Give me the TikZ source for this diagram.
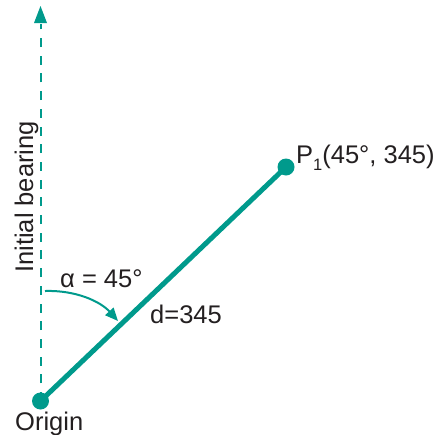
\documentclass[tikz,border=0pt]{standalone}
\usepackage{fontspec}
\setmainfont{Liberation Sans}
\usetikzlibrary{arrows.meta}
\definecolor{teal1}{HTML}{009A8C}
\definecolor{ink}{HTML}{231F20}
\begin{document}
\begin{tikzpicture}[x=1pt,y=-1pt,
  lbl/.style={inner sep=0pt,anchor=base west,text=ink,font=\fontsize{25.5}{30}\selectfont},
  dot/.style={circle,fill=teal1,inner sep=0pt,minimum size=17pt},
  dashline/.style={teal1,line width=2pt,dash pattern=on 9pt off 8.7pt},
  mainline/.style={teal1,line width=5pt},
  arcarrow/.style={teal1,line width=2pt,-{Triangle[width=11pt,length=13pt]}}]
\useasboundingbox (0,0) rectangle (435,434);
\node[dot] (O) at (40.5,401) {};
\node[dot] (P) at (286,167) {};
\coordinate (top) at (40.5,6);
\coordinate (a0) at (45,291);
\coordinate (a1) at (118,321);
\draw[dashline] (O.center) -- (40.5,24);
\fill[teal1] (top) -- (34,23) -- (47,23) -- cycle;
\draw[mainline] (O.center) -- (P.center);
\draw[arcarrow] (a0) .. controls (75,290) and (100,301) .. (a1);
\node[lbl] (origin) at (15,430) {Origin};
\node[lbl] (alpha) at (60,287) {α = 45°};
\node[lbl] (d) at (150,323) {d=345};
\node[lbl] (p1) at (296,163) {P\raisebox{-0.28em}{\fontsize{16.5}{18}\selectfont 1}(45°, 345)};
\node[lbl,rotate=90] (ib) at (33,273) {Initial bearing};
\end{tikzpicture}
\end{document}
